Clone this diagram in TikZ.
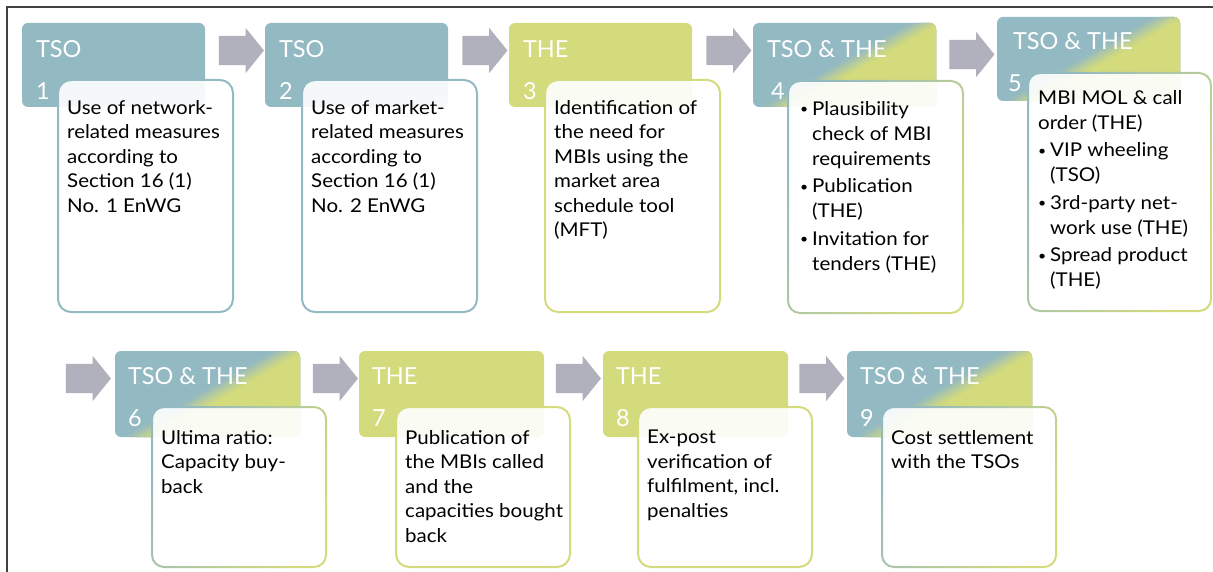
\documentclass[tikz,border=0pt]{standalone}
\usepackage{fontspec}
\setmainfont{Lato}
\newfontfamily\cardfont{Lato}[FakeStretch=1.08]
\usetikzlibrary{shapes.arrows,calc}

\definecolor{tsoblue}{RGB}{147,185,194}
\definecolor{thegreen}{RGB}{212,219,124}
\definecolor{arrowgray}{RGB}{177,177,190}
\definecolor{framegray}{RGB}{64,64,64}

\newcommand\bul{\makebox[12pt][l]{\raisebox{1.5pt}{\fontsize{13pt}{13pt}\selectfont\textbullet}}}
\newcommand\ind{\hspace*{12pt}}
\newcommand\mixring[1]{\shade[ring,rounded corners=13pt] (#1.north west) rectangle (#1.south east) [rounded corners=11pt] ([shift={(2,2)}]#1.north west) rectangle ([shift={(-2,-2)}]#1.south east);}

\tikzset{
  hdr/.style={rectangle, rounded corners=6pt, minimum width=183pt, minimum height=84pt, inner sep=0pt},
  tso/.style={hdr, fill=tsoblue},
  the/.style={hdr, fill=thegreen},
  mix/.style={hdr, fill=tsoblue, path picture={
    \foreach \d/\p in {-15/12,-9/30,-3/50,3/70,9/88,15/100}
      \fill[thegreen!\p!tsoblue] ($(path picture bounding box.south west)!0.13!(path picture bounding box.south east)+(\d,0)$)
        -- ($(path picture bounding box.north west)!0.94!(path picture bounding box.north east)+(\d,0)$)
        -- ([xshift=30pt]path picture bounding box.north east) -- ([xshift=30pt]path picture bounding box.south east) -- cycle;
  }},
  hdrtext/.style={anchor=base west, inner sep=0pt, text=white, font=\fontsize{23.5pt}{28pt}\selectfont},
  card/.style={rectangle, rounded corners=13pt, minimum width=175pt, minimum height=232pt, inner sep=0pt, fill=white, fill opacity=0.9, line width=2pt},
  cardtext/.style={anchor=north west, inner sep=0pt, align=left, font=\cardfont\fontsize{19pt}{24.5pt}\selectfont},
  ring/.style={left color=tsoblue, right color=thegreen, shading angle=60, even odd rule},
  flow/.style={single arrow, fill=arrowgray, minimum height=45pt, inner xsep=0pt, inner ysep=14.5pt, single arrow head extend=8pt, single arrow tip angle=102},
  row2/.style={minimum width=185pt, minimum height=86pt},
  low/.style={minimum width=174pt, minimum height=160pt}
}

\begin{document}
\begin{tikzpicture}[x=1pt,y=-1pt]
\useasboundingbox (0,0) rectangle (1213,572);
\draw [framegray, line width=1.2pt] (7,572) -- (7,7) -- (1213,7);

% first row
\node[tso] (h1) at (113.5,65) {};
\node[tso] (h2) at (356.5,65) {};
\node[the] (h3) at (600.5,65) {};
\node[mix] (h4) at (844.5,65) {};
\node[mix] (h5) at (1088.5,59) {};

\node[flow] (a1) at (235.5,50.5) {};
\node[flow] (a2) at (479,50.5) {};
\node[flow] (a3) at (723,50.5) {};
\node[flow] (a4) at (966,54.5) {};

\node[hdrtext] (l1) at ([shift={(14,35)}]h1.north west) {TSO};
\node[hdrtext] (n1) at ([shift={(14,77)}]h1.north west) {1};
\node[hdrtext] (l2) at ([shift={(14,35)}]h2.north west) {TSO};
\node[hdrtext] (n2) at ([shift={(14,77)}]h2.north west) {2};
\node[hdrtext] (l3) at ([shift={(14,35)}]h3.north west) {THE};
\node[hdrtext] (n3) at ([shift={(14,77)}]h3.north west) {3};
\node[hdrtext] (l4) at ([shift={(14,35)}]h4.north west) {TSO \& THE};
\node[hdrtext] (n4) at ([shift={(18,77)}]h4.north west) {4};
\node[hdrtext] (l5) at ([shift={(16,33)}]h5.north west) {TSO \& THE};
\node[hdrtext] (n5) at ([shift={(11,75)}]h5.north west) {5};

\node[card, draw=tsoblue] (b1) at (145.5,196) {};
\node[card, draw=tsoblue] (b2) at (389.5,196) {};
\node[card, draw=thegreen] (b3) at (632.5,196) {};
\node[card] (b4) at (875.5,197) {};
\mixring{b4}
\node[card, minimum width=183pt, minimum height=238pt] (b5) at (1119.5,192) {};
\mixring{b5}

\node[cardtext] (t1) at ([shift={(10,21)}]b1.north west) {Use of network-\\related measures\\according to\\Section 16 (1)\\No. 1 EnWG};
\node[cardtext] (t2) at ([shift={(10,21)}]b2.north west) {Use of market-\\related measures\\according to\\Section 16 (1)\\No. 2 EnWG};
\node[cardtext] (t3) at ([shift={(10,21)}]b3.north west) {Identification of\\the need for\\MBIs using the\\market area\\schedule tool\\(MFT)};
\node[cardtext, font=\cardfont\fontsize{19pt}{25pt}\selectfont] (t4) at ([shift={(13,21)}]b4.north west) {\bul Plausibility\\\ind check of MBI\\\ind requirements\\[2.5pt]\bul Publication\\\ind (THE)\\[2.5pt]\bul Invitation for\\\ind tenders (THE)};
\node[cardtext, font=\cardfont\fontsize{19pt}{25pt}\selectfont] (t5) at ([shift={(11,18)}]b5.north west) {MBI MOL \& call\\order (THE)\\[2.5pt]\bul VIP wheeling\\\ind (TSO)\\[2.5pt]\bul 3rd-party net-\\\ind work use (THE)\\[2.5pt]\bul Spread product\\\ind (THE)};

% second row
\node[mix, row2] (h6) at (207.5,394) {};
\node[the, row2] (h7) at (451.5,394) {};
\node[the, row2] (h8) at (695.5,394) {};
\node[mix, row2] (h9) at (939.5,394) {};

\node[flow] (a5) at (82.5,378.5) {};
\node[flow] (a6) at (329.5,378.5) {};
\node[flow] (a7) at (572.5,378.5) {};
\node[flow] (a8) at (816,378.5) {};

\node[hdrtext] (l6) at ([shift={(13,34)}]h6.north west) {TSO \& THE};
\node[hdrtext] (n6) at ([shift={(13,76)}]h6.north west) {6};
\node[hdrtext] (l7) at ([shift={(13,34)}]h7.north west) {THE};
\node[hdrtext] (n7) at ([shift={(13,76)}]h7.north west) {7};
\node[hdrtext] (l8) at ([shift={(13,34)}]h8.north west) {THE};
\node[hdrtext] (n8) at ([shift={(13,76)}]h8.north west) {8};
\node[hdrtext] (l9) at ([shift={(13,34)}]h9.north west) {TSO \& THE};
\node[hdrtext] (n9) at ([shift={(13,76)}]h9.north west) {9};

\node[card, low] (b6) at (239,487) {};
\mixring{b6}
\node[card, low, draw=thegreen] (b7) at (483,487) {};
\node[card, low, draw=thegreen] (b8) at (725,487) {};
\node[card, low] (b9) at (969,487) {};
\mixring{b9}

\node[cardtext] (t6) at ([shift={(10,24)}]b6.north west) {Ultima ratio:\\Capacity buy-\\back};
\node[cardtext] (t7) at ([shift={(10,24)}]b7.north west) {Publication of\\the MBIs called\\and the\\capacities bought\\back};
\node[cardtext] (t8) at ([shift={(10,24)}]b8.north west) {Ex-post\\verification of\\fulfilment, incl.\\penalties};
\node[cardtext] (t9) at ([shift={(10,24)}]b9.north west) {Cost settlement\\with the TSOs};
\end{tikzpicture}
\end{document}
